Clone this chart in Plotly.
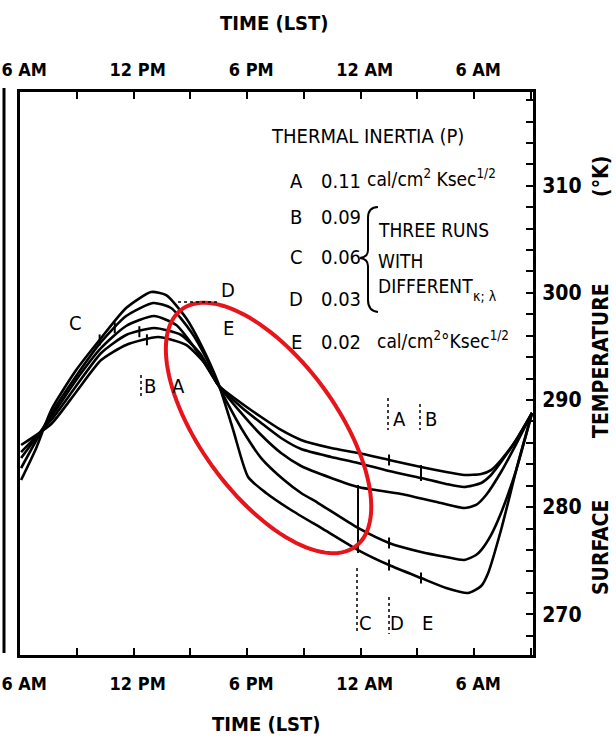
import numpy as np
import plotly.graph_objects as go

# ---------------- data (hour of day from 0h of first day, surface temperature K) -------------
hours_A = [6.05, 7.64, 8.96, 10.28, 11.60, 13.29, 14.77, 15.83, 16.47, 17.68, 18.74, 19.79, 20.85,
           22.44, 23.86, 25.50, 27.19, 28.52, 29.47, 30.37, 30.89, 31.42, 32.22, 33.06]
temp_A = [285.80, 287.76, 290.75, 293.73, 295.14, 295.88, 295.14, 293.27, 291.40, 289.72, 288.41, 287.20, 286.27,
          285.52, 285.05, 284.40, 283.74, 283.28, 283.00, 283.09, 283.46, 284.40, 286.27, 288.79]

hours_B = [6.05, 7.64, 8.96, 10.28, 11.60, 13.08, 14.51, 15.57, 16.47, 17.68, 18.74, 19.79, 20.85,
           22.44, 23.86, 25.50, 27.19, 28.52, 29.47, 30.37, 30.89, 31.42, 32.22, 33.06]
temp_B = [285.14, 288.13, 291.31, 294.39, 296.07, 296.72, 296.07, 294.20, 291.40, 289.35, 287.85, 286.45, 285.42,
          284.68, 284.12, 283.37, 282.72, 282.16, 281.88, 282.25, 283.00, 284.21, 286.27, 288.79]

hours_C = [6.05, 7.64, 8.96, 10.28, 11.60, 13.08, 14.25, 15.30, 16.47, 17.68, 18.74, 19.79, 20.85,
           22.44, 23.86, 26.14, 28.25, 29.47, 30.10, 30.63, 31.42, 32.22, 33.06]
temp_C = [284.58, 288.41, 291.87, 294.86, 296.91, 297.84, 297.00, 294.67, 291.40, 288.79, 286.73, 285.05, 283.84,
          282.72, 281.88, 281.22, 280.38, 279.92, 280.20, 281.13, 283.28, 285.89, 288.79]

hours_D = [6.05, 7.64, 8.96, 10.28, 11.60, 13.03, 13.98, 15.04, 15.83, 16.47, 17.15, 17.68, 18.74, 19.95,
           20.85, 21.75, 23.86, 25.50, 27.19, 28.52, 29.47, 30.10, 30.37, 30.89, 31.42, 32.22, 33.06]
temp_D = [283.65, 288.69, 292.24, 295.42, 297.84, 299.06, 298.59, 296.35, 293.92, 291.40, 289.07, 287.39, 284.58, 282.53,
          281.32, 280.38, 278.05, 276.65, 275.81, 275.34, 275.06, 275.53, 275.99, 277.39, 279.45, 283.46, 288.79]

hours_E = [6.05, 6.85, 7.64, 8.96, 10.28, 11.60, 12.92, 13.72, 14.77, 15.57, 16.47, 17.26, 18.05, 19.00,
           20.32, 21.91, 23.86, 25.50, 27.19, 28.52, 29.68, 30.37, 30.74, 31.42, 32.32, 33.06]
temp_E = [282.53, 285.52, 289.07, 292.80, 295.79, 298.59, 300.08, 299.80, 297.66, 295.14, 291.59, 287.20, 282.81, 281.32,
          279.73, 278.05, 275.99, 274.59, 273.38, 272.45, 271.98, 272.63, 273.85, 277.86, 284.12, 288.79]

curve_names = ["A", "B", "C", "D", "E"]
curves = {"A": (hours_A, temp_A), "B": (hours_B, temp_B), "C": (hours_C, temp_C),
          "D": (hours_D, temp_D), "E": (hours_E, temp_E)}

# small marks drawn on the curves (curve, hour)
mark_curve = ["E", "D", "B", "A", "A", "D", "E", "E"]
mark_hour = [10.2, 11.0, 12.3, 12.7, 25.5, 25.5, 25.5, 27.19]
# vertical connectors between two curves (top curve, bottom curve, hour)
link_top = ["A", "C"]
link_bot = ["B", "E"]
link_hour = [27.19, 23.86]

x_tick_vals = [6, 9, 12, 15, 18, 21, 24, 27, 30, 33]
x_tick_text = ["6 AM", "", "12 PM", "", "6 PM", "", "12 AM", "", "6 AM", ""]
x_label_vals = [6, 12, 18, 24, 30]
x_label_text = ["6 AM", "12 PM", "6 PM", "12 AM", "6 AM"]
y_tick_vals = list(range(268, 319, 2))
y_tick_text = [str(v) if v % 10 == 0 else "" for v in y_tick_vals]

legend_letters = ["A", "B", "C", "D", "E"]
legend_values = ["0.11", "0.09", "0.06", "0.03", "0.02"]

# ---------------- layout geometry ----------------
W, H = 616, 740
L, R, T, B = 20, 533, 92, 655
XR = [5.99, 33.11]
YR = [266.19, 318.76]
PXH = (R - L) / (XR[1] - XR[0])
PXK = (B - T) / (YR[1] - YR[0])

NARROW = "DejaVu Sans Condensed, Liberation Sans Narrow, Arial Narrow, sans-serif"


def px(x):
    return (x - L) / (R - L)


def py(y):
    return (B - y) / (B - T)


def interp(name, h):
    hh, tt = curves[name]
    return float(np.interp(h, hh, tt))


fig = go.Figure()

for n in curve_names:
    hh, tt = curves[n]
    fig.add_trace(go.Scatter(x=hh, y=tt, mode="lines", name=n,
                             line=dict(color="black", width=2.6, shape="spline", smoothing=0.6),
                             hoverinfo="skip", showlegend=False))

# marks on curves
mx, my = [], []
half = 5.5 / PXK
for c, h in zip(mark_curve, mark_hour):
    v = interp(c, h)
    mx += [h, h, None]
    my += [v - half, v + half, None]
for a, b, h in zip(link_top, link_bot, link_hour):
    mx += [h, h, None]
    my += [interp(a, h) + 2 / PXK, interp(b, h) - 3 / PXK, None]
fig.add_trace(go.Scatter(x=mx, y=my, mode="lines", line=dict(color="black", width=2),
                         hoverinfo="skip", showlegend=False))

# invisible trace to activate the top axis
fig.add_trace(go.Scatter(x=[hours_A[0]], y=[temp_A[0]], xaxis="x2", mode="markers",
                         marker=dict(opacity=0), hoverinfo="skip", showlegend=False))

shapes = []
# red ellipse (centre in data units, axes in pixels)
ecx, ecy, ea, eb, eang = 19.13, 287.39, 147, 68, np.deg2rad(53.8)
t = np.linspace(0, 2 * np.pi, 120)
dx = ea * np.cos(t) * np.cos(eang) - eb * np.sin(t) * np.sin(eang)
dy = ea * np.cos(t) * np.sin(eang) + eb * np.sin(t) * np.cos(eang)
ex = ecx + dx / PXH
ey = ecy - dy / PXK
path = "M " + " L ".join(f"{a:.4f},{b:.4f}" for a, b in zip(ex, ey)) + " Z"
shapes.append(dict(type="path", xref="x", yref="y", path=path,
                   line=dict(color="#e8141b", width=4), layer="above"))

# remnant frame line of neighbouring panel
shapes.append(dict(type="line", xref="paper", yref="paper", x0=px(4), x1=px(4), y0=py(88), y1=py(653),
                   line=dict(color="black", width=3)))


# dotted leader lines
def dotted(x0, y0, x1, y1):
    shapes.append(dict(type="line", xref="paper", yref="paper", x0=px(x0), x1=px(x1), y0=py(y0), y1=py(y1),
                       line=dict(color="black", width=1.5, dash="dot")))


dotted(178, 302, 218, 302)
dotted(388, 398, 388, 430)
dotted(420, 404, 420, 430)
dotted(357, 568, 357, 634)
dotted(389, 597, 389, 634)
dotted(141, 375, 141, 396)

# curly bracket in legend
bp = (f"M {px(378)},{py(207)} Q {px(368)},{py(207)} {px(368)},{py(218)} L {px(368)},{py(250)} "
      f"Q {px(368)},{py(257)} {px(360)},{py(258)} Q {px(368)},{py(259)} {px(368)},{py(266)} "
      f"L {px(368)},{py(300)} Q {px(368)},{py(311)} {px(378)},{py(312)}")
shapes.append(dict(type="path", xref="paper", yref="paper", path=bp, line=dict(color="black", width=2)))

ann = []


def text(s, x, y, size=19, anchor="left", bold=False, angle=0):
    ann.append(dict(text=s, x=px(x), y=py(y), xref="paper", yref="paper", showarrow=False,
                    xanchor=anchor, yanchor="middle", textangle=angle, borderpad=0,
                    font=dict(family=NARROW, size=size, color="black", weight=700 if bold else 400)))


# axis titles
text("TIME (LST)", 274, 23, size=20, anchor="center", bold=True)
text("TIME (LST)", 266, 724, size=20, anchor="center", bold=True)
text("SURFACE", 601, 548, size=21, anchor="center", bold=True, angle=-90)
text("TEMPERATURE", 601, 361, size=21, anchor="center", bold=True, angle=-90)
text("(°K)", 601, 177, size=21, anchor="center", bold=True, angle=-90)

# legend
text("THERMAL INERTIA (P)", 270, 136, size=20)
rows_y = [181, 217, 257, 299, 342]
for letter, val, yy in zip(legend_letters, legend_values, rows_y):
    text(letter, 296, yy, size=20, anchor="center")
    text(val, 320, yy, size=20)
text("cal/cm<sup>2</sup> Ksec<sup>1/2</sup>", 366, 178, size=19)
text("THREE RUNS", 377, 230, size=19)
text("WITH", 377, 261, size=19)
text("DIFFERENT", 377, 286, size=19)
text("κ; λ", 472, 296, size=14)
text("cal/cm<sup>2</sup>°Ksec<sup>1/2</sup>", 376, 340, size=19)

# curve labels
text("C", 75, 323, size=20, anchor="center")
text("B", 150, 386, size=20, anchor="center")
text("A", 178, 386, size=20, anchor="center")
text("D", 228, 290, size=20, anchor="center")
text("E", 228, 328, size=20, anchor="center")
text("A", 399, 419, size=20, anchor="center")
text("B", 431, 419, size=20, anchor="center")
text("C", 365, 623, size=20, anchor="center")
text("D", 397, 623, size=20, anchor="center")
text("E", 427, 623, size=20, anchor="center")

tickfont = dict(family=NARROW, size=18, color="black", weight=700)

fig.update_layout(
    width=W, height=H,
    margin=dict(l=L, r=W - R, t=T, b=H - B, pad=0, autoexpand=False),
    paper_bgcolor="white", plot_bgcolor="white",
    showlegend=False,
    xaxis=dict(range=XR, tickvals=x_tick_vals, ticktext=x_tick_text, ticks="inside", ticklen=7,
               tickwidth=2, tickcolor="black", showline=True, linecolor="black", linewidth=3,
               mirror="ticks", showgrid=False, zeroline=False, tickfont=tickfont, automargin=False,
               ticklabelstandoff=10, ticklabeloverflow="allow", ticklabelshift=4),
    xaxis2=dict(range=XR, overlaying="x", side="top", tickvals=x_label_vals, ticktext=x_label_text,
                ticks="", showline=False, showgrid=False, zeroline=False, tickfont=tickfont,
                automargin=False, ticklabelstandoff=11, ticklabeloverflow="allow", ticklabelshift=4),
    yaxis=dict(range=YR, side="right", tickvals=y_tick_vals, ticktext=y_tick_text, ticks="inside",
               ticklen=7, tickwidth=2, tickcolor="black", showline=True, linecolor="black",
               linewidth=3, mirror=True, showgrid=False, zeroline=False, automargin=False,
               tickfont=dict(family=NARROW, size=21, color="black", weight=700),
               ticklabelstandoff=2),
    shapes=shapes,
    annotations=ann,
)

fig.write_html("out.html", config={"displayModeBar": False},
               post_script="document.body.style.margin='0px';")
